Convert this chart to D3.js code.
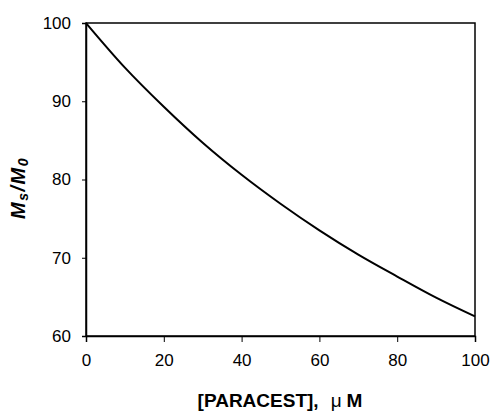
<!doctype html>
<html lang="en">
<head>
    <meta charset="utf-8">
    <title>Ms/M0 vs PARACEST</title>
    <script src="https://cdn.jsdelivr.net/npm/d3@7"></script>
    <style>
        body { margin: 0; background: #fff; }
        text { font-family: "Liberation Sans", Arial, sans-serif; fill: #000; }
    </style>
</head>
<body>
    <svg></svg>
    <script>
        var width = 492;
        var height = 412;
        var margin = { top: 23, right: 17, bottom: 76, left: 86 };

        // concentration in uM, and signal ratio in %
        var conc = [0, 10, 20, 30, 40, 50, 60, 70, 80, 90, 100];
        var ratio = [100, 94.3, 89.3, 84.7, 80.6, 76.9, 73.5, 70.4, 67.6, 64.9, 62.5];
        var xTicks = [0, 20, 40, 60, 80, 100];
        var yTicks = [60, 70, 80, 90, 100];

        var dataset = conc.map(function (c, i) { return { c: c, r: ratio[i] }; });

        var svg = d3.select('svg').attr('width', width).attr('height', height);

        var xScale = d3.scaleLinear()
            .domain([0, 100])
            .range([margin.left, width - margin.right]);

        var yScale = d3.scaleLinear()
            .domain([60, 100])
            .range([height - margin.bottom, margin.top]);

        // frame
        svg.append('rect')
            .attr('x', xScale(0))
            .attr('y', yScale(100))
            .attr('width', xScale(100) - xScale(0))
            .attr('height', yScale(60) - yScale(100))
            .attr('fill', 'none')
            .attr('stroke', '#000')
            .attr('stroke-width', 1.5);

        var xAxis = svg.append('g')
            .attr('transform', 'translate(0,' + yScale(60) + ')')
            .call(d3.axisBottom(xScale).tickValues(xTicks).tickSize(6).tickPadding(12));

        var yAxis = svg.append('g')
            .attr('transform', 'translate(' + xScale(0) + ',0)')
            .call(d3.axisLeft(yScale).tickValues(yTicks).tickSize(4).tickPadding(11));

        [xAxis, yAxis].forEach(function (ax) {
            ax.select('.domain').attr('stroke', '#000').attr('stroke-width', 1.5);
            ax.selectAll('.tick line').attr('stroke', '#000').attr('stroke-width', 1);
            ax.selectAll('.tick text')
                .attr('font-family', '"Liberation Sans", Arial, sans-serif')
                .attr('font-size', '17px')
                .attr('fill', '#000');
        });

        var line = d3.line()
            .x(function (d) { return xScale(d.c); })
            .y(function (d) { return yScale(d.r); })
            .curve(d3.curveMonotoneX);

        svg.append('path')
            .datum(dataset)
            .attr('d', line)
            .attr('fill', 'none')
            .attr('stroke', '#000')
            .attr('stroke-width', 2);

        // x title
        var xt = svg.append('text')
            .attr('x', 280)
            .attr('y', 407)
            .attr('text-anchor', 'middle')
            .attr('font-size', '19px')
            .attr('font-weight', 'bold');
        xt.append('tspan').text('[PARACEST],');
        xt.append('tspan').attr('dx', 12).attr('font-weight', 'normal').text('\u03bc');
        xt.append('tspan').attr('dx', 5).text('M');

        // y title
        var yt = svg.append('text')
            .attr('transform', 'translate(25,188) rotate(-90)')
            .attr('text-anchor', 'middle')
            .attr('font-size', '20px')
            .attr('font-weight', 'bold')
            .attr('font-style', 'italic')
            .attr('letter-spacing', 1.5);
        yt.append('tspan').text('M');
        yt.append('tspan').attr('font-size', '14px').attr('dy', 3).text('s');
        yt.append('tspan').attr('dy', -3).text('/M');
        yt.append('tspan').attr('font-size', '14px').attr('dy', 3).text('0');
    </script>
</body>
</html>
